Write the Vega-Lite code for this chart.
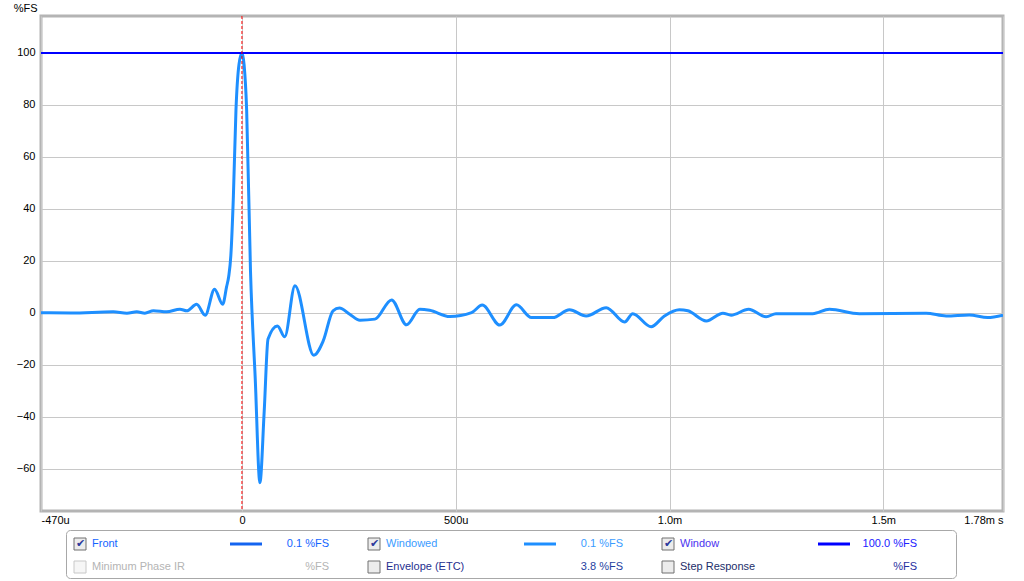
{
  "$schema": "https://vega.github.io/schema/vega-lite/v6.json",
  "background": "#ffffff",
  "padding": {"left": 11, "top": 0, "right": 0, "bottom": 0},
  "spacing": 2,
  "config": {
    "font": "Liberation Sans",
    "view": {"stroke": null},
    "axis": {"labelFont": "Liberation Sans", "labelFontSize": 11, "labelColor": "#000000", "titleFont": "Liberation Sans", "titleFontSize": 11, "titleFontWeight": "normal", "titleColor": "#000000", "grid": true, "gridColor": "#c8c8c8", "gridWidth": 1, "ticks": false, "domain": false}
  },
  "datasets": {
    "ir": [
      {"t": -0.47, "v": 0.1}, {"t": -0.40, "v": 0.0}, {"t": -0.301, "v": 0.4}, {"t": -0.269, "v": -0.1},
      {"t": -0.246, "v": 0.4}, {"t": -0.227, "v": -0.1}, {"t": -0.207, "v": 0.8}, {"t": -0.176, "v": 0.4},
      {"t": -0.145, "v": 1.4}, {"t": -0.129, "v": 0.8}, {"t": -0.106, "v": 3.3}, {"t": -0.086, "v": -0.9},
      {"t": -0.064, "v": 9.1}, {"t": -0.045, "v": 3.3}, {"t": -0.036, "v": 10}, {"t": -0.031, "v": 14},
      {"t": -0.026, "v": 22}, {"t": -0.020, "v": 45}, {"t": -0.014, "v": 78}, {"t": -0.007, "v": 95.5}, {"t": 0.0, "v": 100},
      {"t": 0.005, "v": 95.5}, {"t": 0.011, "v": 78}, {"t": 0.020, "v": 16},
      {"t": 0.031, "v": -25}, {"t": 0.042, "v": -65.3}, {"t": 0.052, "v": -38}, {"t": 0.061, "v": -10},
      {"t": 0.083, "v": -5}, {"t": 0.100, "v": -9.2}, {"t": 0.124, "v": 10.4}, {"t": 0.168, "v": -16.3},
      {"t": 0.190, "v": -10.8}, {"t": 0.213, "v": 0.8}, {"t": 0.228, "v": 1.9}, {"t": 0.252, "v": -0.5},
      {"t": 0.276, "v": -2.8}, {"t": 0.311, "v": -2.4}, {"t": 0.350, "v": 5}, {"t": 0.385, "v": -4.6},
      {"t": 0.416, "v": 1.4}, {"t": 0.439, "v": 1}, {"t": 0.486, "v": -1.4}, {"t": 0.537, "v": 0.1},
      {"t": 0.562, "v": 3}, {"t": 0.603, "v": -4.7}, {"t": 0.642, "v": 3.1}, {"t": 0.677, "v": -1.8},
      {"t": 0.727, "v": -1.8}, {"t": 0.766, "v": 1.2}, {"t": 0.805, "v": -1.2}, {"t": 0.852, "v": 2},
      {"t": 0.895, "v": -3.5}, {"t": 0.914, "v": -0.3}, {"t": 0.957, "v": -5.3}, {"t": 0.988, "v": -1.2},
      {"t": 1.023, "v": 1.2}, {"t": 1.043, "v": 0.8}, {"t": 1.086, "v": -3.1}, {"t": 1.125, "v": -0.1},
      {"t": 1.144, "v": -0.9}, {"t": 1.185, "v": 1.4}, {"t": 1.226, "v": -1.5}, {"t": 1.249, "v": -0.3},
      {"t": 1.335, "v": -0.3}, {"t": 1.374, "v": 1.4}, {"t": 1.444, "v": -0.3}, {"t": 1.600, "v": -0.1},
      {"t": 1.647, "v": -1.2}, {"t": 1.701, "v": -0.8}, {"t": 1.744, "v": -1.8}, {"t": 1.78, "v": -0.9}
    ],
    "legend": [
      {"g": 0, "r": 0, "key": "Front", "label": "Front", "value": "0.1 %FS", "checked": true, "enabled": true, "line": true},
      {"g": 0, "r": 1, "key": "MinPhase", "label": "Minimum Phase IR", "value": "%FS", "checked": false, "enabled": false, "line": false},
      {"g": 1, "r": 0, "key": "Windowed", "label": "Windowed", "value": "0.1 %FS", "checked": true, "enabled": true, "line": true},
      {"g": 1, "r": 1, "key": "ETC", "label": "Envelope (ETC)", "value": "3.8 %FS", "checked": false, "enabled": true, "line": false},
      {"g": 2, "r": 0, "key": "Window", "label": "Window", "value": "100.0 %FS", "checked": true, "enabled": true, "line": true},
      {"g": 2, "r": 1, "key": "Step", "label": "Step Response", "value": "%FS", "checked": false, "enabled": true, "line": false}
    ],
    "refs": [{"window": 100, "marker": 0}]
  },
  "vconcat": [
    {
      "width": 962,
      "height": 495,
      "view": {"stroke": "#b4b4b4", "strokeWidth": 3},
      "encoding": {
        "x": {
          "type": "quantitative",
          "scale": {"domain": [-0.47, 1.78], "nice": false, "zero": false},
          "axis": {"title": null, "values": [-0.47, 0, 0.5, 1, 1.5, 1.78], "labelPadding": 3,
            "labelExpr": "datum.value == 0 ? '0' : datum.value < 0 ? '-470u' : datum.value == 0.5 ? '500u' : datum.value == 1 ? '1.0m' : datum.value == 1.5 ? '1.5m' : '1.78m s'"}
        },
        "y": {
          "type": "quantitative",
          "scale": {"domain": [-76.2, 114.2], "nice": false, "zero": false},
          "axis": {"title": "%FS", "values": [-60, -40, -20, 0, 20, 40, 60, 80, 100], "labelPadding": 6,
            "titleAngle": 0, "titleAlign": "right", "titleBaseline": "middle", "titleX": -4, "titleY": -8}
        }
      },
      "layer": [
        {
          "data": {"name": "ir"},
          "mark": {"type": "line", "color": "#1e8fff", "strokeWidth": 3, "interpolate": "monotone", "clip": true},
          "encoding": {
            "x": {"field": "t", "type": "quantitative"},
            "y": {"field": "v", "type": "quantitative"}
          }
        },
        {
          "data": {"name": "refs"},
          "mark": {"type": "rule", "color": "#0000ff", "strokeWidth": 2},
          "encoding": {"y": {"field": "window", "type": "quantitative"}, "x": null}
        },
        {
          "data": {"name": "refs"},
          "mark": {"type": "rule", "color": "#ff0000", "strokeWidth": 1, "strokeDash": [3, 2]},
          "encoding": {"x": {"field": "marker", "type": "quantitative"}, "y": null}
        }
      ]
    },
    {
      "spacing": 19,
      "hconcat": [
        {
          "width": 5,
          "height": 48,
          "data": {"values": []},
          "mark": {"type": "point"},
          "encoding": {}
        },
        {
          "width": 890,
          "height": 48,
          "view": {"stroke": "#a8a8a8", "strokeWidth": 1, "cornerRadius": 4},
          "data": {"name": "legend"},
          "encoding": {
            "x": {"field": "g", "type": "quantitative", "scale": {"domain": [0, 3], "range": [0, 882]}, "axis": null},
            "y": {"field": "r", "type": "quantitative", "scale": {"domain": [0, 1], "range": [14, 37]}, "axis": null}
          },
          "layer": [
            {
              "transform": [{"filter": "datum.enabled"}],
              "mark": {"type": "point", "shape": "square", "size": 144, "filled": true, "fill": "#ececec", "stroke": "#707070", "strokeWidth": 1, "xOffset": 14, "opacity": 1}
            },
            {
              "transform": [{"filter": "!datum.enabled"}],
              "mark": {"type": "point", "shape": "square", "size": 144, "filled": true, "fill": "#f6f6f6", "stroke": "#c8c8c8", "strokeWidth": 1, "xOffset": 14, "opacity": 1}
            },
            {
              "transform": [{"filter": "datum.checked"}],
              "mark": {"type": "text", "text": "✔", "fontSize": 11, "color": "#2b3a9c", "dx": 14, "align": "center", "baseline": "middle"}
            },
            {
              "mark": {"type": "text", "align": "left", "baseline": "middle", "dx": 26, "fontSize": 11},
              "encoding": {
                "text": {"field": "label"},
                "color": {"field": "key", "type": "nominal", "legend": null,
                  "scale": {"domain": ["Front", "MinPhase", "Windowed", "ETC", "Window", "Step"],
                    "range": ["#1464ff", "#b4b4b4", "#3a9cff", "#1f2f8f", "#4a32f0", "#1c2e6a"]}}
              }
            },
            {
              "transform": [{"filter": "datum.line"}],
              "mark": {"type": "rule", "strokeWidth": 3, "xOffset": 164, "x2Offset": 196},
              "encoding": {
                "x2": {"field": "g"},
                "color": {"field": "key", "type": "nominal", "legend": null,
                  "scale": {"domain": ["Front", "Windowed", "Window"], "range": ["#1464f0", "#1e8fff", "#0000ff"]}}
              }
            },
            {
              "mark": {"type": "text", "align": "right", "baseline": "middle", "dx": 263, "fontSize": 11},
              "encoding": {
                "text": {"field": "value"},
                "color": {"field": "key", "type": "nominal", "legend": null,
                  "scale": {"domain": ["Front", "MinPhase", "Windowed", "ETC", "Window", "Step"],
                    "range": ["#1464ff", "#b4b4b4", "#3a9cff", "#1f3f9f", "#2020ff", "#1f2f9f"]}}
              }
            }
          ],
          "resolve": {"scale": {"color": "independent"}}
        }
      ]
    }
  ]
}
